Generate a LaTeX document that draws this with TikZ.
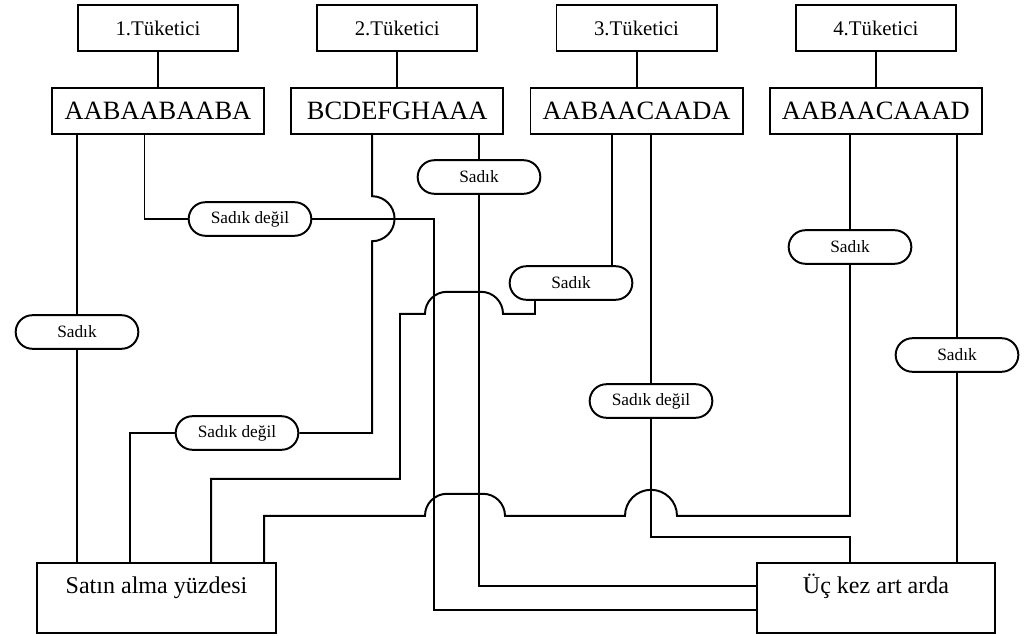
\documentclass[tikz,border=0pt]{standalone}
\usepackage{fontspec}
\setmainfont{Liberation Serif}
\usetikzlibrary{positioning,shapes.misc,calc}

\begin{document}
\begin{tikzpicture}[x=0.025cm,y=0.025cm,line width=1.4pt,node distance=5.98cm,
  tuk node/.style={draw,minimum width=4cm,minimum height=1.15cm,font=\fontsize{14.8}{17}\selectfont},
  seq node/.style={draw,minimum width=5.3cm,minimum height=1.15cm,font=\fontsize{18.8}{22}\selectfont},
  pill node/.style={rounded rectangle,draw,fill=white,minimum width=3.3cm,minimum height=0.84cm,font=\fontsize{12.3}{14}\selectfont},
  end node/.style={draw,minimum width=5.96cm,minimum height=1.75cm,text height=0.375cm,text depth=0.625cm,font=\fontsize{17.1}{20}\selectfont}]

\useasboundingbox (0,0) rectangle (1027,-636);

% consumers and their purchase sequences
\node[tuk node] (t1) at (158,-28) {1.Tüketici};
\node[tuk node] (t2) [right of=t1] {2.Tüketici};
\node[tuk node] (t3) [right of=t2] {3.Tüketici};
\node[tuk node] (t4) [right of=t3] {4.Tüketici};

\node[seq node] (s1) [below of=t1,node distance=2.08cm] {AABAABAABA};
\node[seq node] (s2) [below of=t2,node distance=2.08cm] {BCDEFGHAAA};
\node[seq node] (s3) [below of=t3,node distance=2.08cm] {AABAACAADA};
\node[seq node] (s4) [below of=t4,node distance=2.08cm] {AABAACAAAD};

\path (t1) edge (s1)
      (t2) edge (s2)
      (t3) edge (s3)
      (t4) edge (s4);

% decisions
\node[pill node] (p1) at (77,-332) {Sadık};
\node[pill node] (p2) at (250,-219) {Sadık değil};
\node[pill node] (p3) at (479,-177) {Sadık};
\node[pill node] (p4) at (237,-433) {Sadık değil};
\node[pill node] (p5) at (571,-283) {Sadık};
\node[pill node] (p6) at (651,-401) {Sadık değil};
\node[pill node] (p7) at (850,-247) {Sadık};
\node[pill node] (p8) at (957,-355) {Sadık};

% measures
\node[end node] (b1) at (156.5,-598) {Satın alma yüzdesi};
\node[end node] (b2) at (876,-598) {Üç kez art arda};

% 1st consumer
\draw (s1.south -| p1) -- (p1) -- (p1 |- b1.north);
\draw (s1.south) ++(-13.5,0) |- (p2);
\draw (p2.east) -- ++(122,0) |- ([yshift=-0.3cm]b2.west);

% 2nd consumer
\draw (s2.south -| p3) -- (p3) |- ([yshift=0.3cm]b2.west);
\draw (s2.south) ++(-25.2,0) -- ++(0,-61) arc (90:-90:22.5) |- (p4);
\draw (p4) -| ([xshift=-0.6625cm]b1.north);

% 3rd consumer
\draw ([xshift=-0.625cm]s3.south) -- ([xshift=-0.625cm]s3.south |- p5.north);
\draw ([xshift=-0.9cm]p5.south) -- ++(0,-13) -- ++(-32,0) arc (0:90:22) -- ++(-34,0)
      arc (90:180:22) -- ++(-25,0) -- ++(0,-165) -| ([xshift=1.3625cm]b1.north);
\draw (s3.south -| p6) -- (p6) |- ([xshift=-0.65cm,yshift=0.625cm]b2.north)
      -- ([xshift=-0.65cm]b2.north);

% 4th consumer
\draw (s4.south -| p7) -- (p7);
\draw (p7.south) -- ++(0,-251) -- ++(-173,0) arc (0:180:26) -- ++(-120,0) arc (0:90:22)
      -- ++(-36,0) arc (90:180:22) -| ([xshift=2.6875cm]b1.north);
\draw (s4.south -| p8) -- (p8) -- (p8 |- b2.north);
\end{tikzpicture}
\end{document}
